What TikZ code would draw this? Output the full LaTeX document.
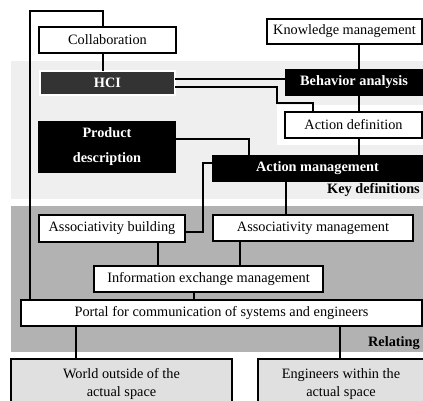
\documentclass[tikz,border=0pt]{standalone}
\usepackage{fontspec}
\setmainfont{Liberation Serif}
\begin{document}
\definecolor{bandlight}{HTML}{EFEFEF}
\definecolor{banddark}{HTML}{B2B2B2}
\definecolor{worldfill}{HTML}{E0E0E0}
\definecolor{hcifill}{HTML}{333333}
\begin{tikzpicture}[x=1pt,y=-1pt,
  font=\fontsize{14.3}{17}\selectfont,
  box/.style={rectangle,anchor=north west,inner sep=0pt,outer sep=0pt,line width=1.3pt},
  plainbox/.style={box,draw=black,fill=white},
  darkbox/.style={box,draw=none,fill=black,text=white,font=\fontsize{14.3}{17}\selectfont\bfseries},
  worldbox/.style={box,draw=black,fill=worldfill,align=center,font=\fontsize{14.3}{18}\selectfont},
  link/.style={line width=1.1pt,draw=black},
  bandlabel/.style={anchor=east,inner sep=0pt,font=\fontsize{14.3}{17}\selectfont\bfseries}]
\useasboundingbox (0,0) rectangle (423,401);

% background bands
\fill[bandlight] (11,61) rectangle (423,199);
\fill[white] (277,105) rectangle (423,145);
\fill[banddark] (11,206) rectangle (423,352);

% boxes
\node[plainbox,minimum width=137pt,minimum height=26pt] (collab) at (39,27) {Collaboration};
\node[plainbox,minimum width=155pt,minimum height=25pt] (know) at (267,19) {Knowledge management};
\node[darkbox,draw=white,fill=hcifill,minimum width=135pt,minimum height=24pt] (hci) at (40,71) {HCI};
\node[darkbox,minimum width=138pt,minimum height=27pt] (behav) at (285,69) {Behavior analysis};
\node[plainbox,minimum width=137pt,minimum height=26pt] (actdef) at (285,112) {Action definition};
\node[darkbox,minimum width=138pt,minimum height=52pt,align=center,
      font=\fontsize{14.3}{25}\selectfont\bfseries] (prod) at (38,121) {Product\\description};
\node[darkbox,minimum width=211pt,minimum height=27pt] (actmgmt) at (212,155) {Action management};
\node[plainbox,minimum width=146pt,minimum height=27pt] (assocb) at (39,215) {Associativity building};
\node[plainbox,minimum width=200pt,minimum height=26pt] (assocm) at (213,215) {Associativity management};
\node[plainbox,minimum width=229pt,minimum height=26pt] (info) at (94,266) {Information exchange management};
\node[plainbox,minimum width=401pt,minimum height=26pt] (portal) at (21,300) {Portal for communication of systems and engineers};
\node[worldbox,minimum width=221pt,minimum height=50pt] (world) at (11,359) {World outside of the\\actual space};
\node[worldbox,minimum width=166pt,minimum height=50pt] (eng) at (258,359) {Engineers within the\\actual space};

\node[bandlabel] (keydef) at (420,190) {Key definitions};
\node[bandlabel] (relating) at (420,343) {Relating};

% routing points
\coordinate (loopA) at (103,11);
\coordinate (loopB) at (30,11);
\coordinate (hb) at (0,79);
\coordinate (ha) at (277,87);
\coordinate (hb2) at (277,103);
\coordinate (hc) at (313,103);
\coordinate (spine) at (359,0);
\coordinate (pa) at (249,139);
\coordinate (ma) at (203,163);
\coordinate (mb) at (203,232);
\coordinate (mm) at (286,0);
\coordinate (bi) at (158,0);
\coordinate (mi) at (240,0);
\coordinate (ip) at (194,0);
\coordinate (pw) at (76,0);
\coordinate (pe) at (340,0);

% connectors
\draw[link] (collab.north -| loopA) -- (loopA) -- (loopB) -- (loopB |- portal.north);
\draw[link] (collab.south -| loopA) -- (hci.north -| loopA);
\draw[link] (hci.east |- hb) -- (behav.west |- hb);
\draw[link] (hci.east |- ha) -- (ha) -- (hb2) -- (hc) -- (hc |- actdef.north);
\draw[link] (know.south -| spine) -- (behav.north -| spine);
\draw[link] (behav.south -| spine) -- (actdef.north -| spine);
\draw[link] (actdef.south -| spine) -- (actmgmt.north -| spine);
\draw[link] (prod.east |- pa) -- (pa) -- (pa |- actmgmt.north);
\draw[link] (actmgmt.west |- ma) -- (ma) -- (mb) -- (assocb.east |- mb);
\draw[link] (actmgmt.south -| mm) -- (assocm.north -| mm);
\draw[link] (assocb.south -| bi) -- (info.north -| bi);
\draw[link] (assocm.south -| mi) -- (info.north -| mi);
\draw[link] (info.south -| ip) -- (portal.north -| ip);
\draw[link] (portal.south -| pw) -- (world.north -| pw);
\draw[link] (portal.south -| pe) -- (eng.north -| pe);
\end{tikzpicture}
\end{document}
